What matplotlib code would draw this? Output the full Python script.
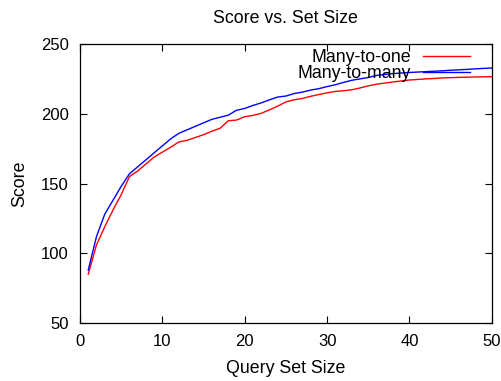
import matplotlib
matplotlib.use('Agg')
import matplotlib.pyplot as plt

plt.rcParams['font.family'] = ['Liberation Sans', 'DejaVu Sans']

# query set size
set_size = list(range(1, 51))

# many-to-one (red)
score_many_to_one = [85, 106, 119, 131, 142, 155, 159, 164, 169, 172.5,
                     176, 179.8, 181, 183, 185, 187.5, 189.6, 195, 195.5, 197.9,
                     198.8, 200.3, 202.8, 205.5, 208.5, 210, 211, 212.5, 213.8, 215,
                     216, 216.5, 217.2, 218.5, 220, 221.2, 222, 222.8, 223.5, 224.2,
                     224.6, 225, 225.3, 225.7, 225.9, 226.1, 226.2, 226.4, 226.5, 226.6]

# many-to-many (blue)
score_many_to_many = [88, 112, 128, 138, 148, 157, 162, 167, 172, 177,
                      182, 186, 188.5, 191, 193.5, 196, 197.5, 199, 202.5, 203.8,
                      206, 207.8, 210, 212, 212.7, 214.5, 215.5, 217, 218, 219.5,
                      220.8, 222.5, 224, 225, 226, 227.5, 228.2, 228.8, 229.2, 229.6,
                      229.9, 230.2, 230.5, 230.8, 231.2, 231.5, 231.8, 232.2, 232.5, 232.8]

x_ticks = [0, 10, 20, 30, 40, 50]
y_ticks = [50, 100, 150, 200, 250]

fig = plt.figure(figsize=(5.01, 3.81), dpi=100)
ax = fig.add_axes([0.1597, 0.152, 0.822, 0.7325])

ax.plot(set_size, score_many_to_one, color='#ff0000', linewidth=1.0, label='Many-to-one')
ax.plot(set_size, score_many_to_many, color='#0000ff', linewidth=1.0, label='Many-to-many')

ax.set_xlim(0, 50)
ax.set_ylim(50, 250)
ax.set_xticks(x_ticks)
ax.set_yticks(y_ticks)
ax.tick_params(direction='in', length=5, width=0.8, top=True, right=True,
               labelsize=12, pad=8)
for s in ax.spines.values():
    s.set_linewidth(0.9)

ax.set_title('Score vs. Set Size', fontsize=12.8, pad=15)
ax.set_xlabel('Query Set Size', fontsize=12.8, labelpad=8)
ax.set_ylabel('Score', fontsize=12.8, labelpad=9)

ax.legend(loc='upper right', frameon=False, markerfirst=False, fontsize=12.8,
          handlelength=2.64, handletextpad=0.67, labelspacing=-0.05,
          borderpad=0.3, borderaxespad=0.0, bbox_to_anchor=(0.96, 1.0))

fig.savefig('out.png', dpi=100)
